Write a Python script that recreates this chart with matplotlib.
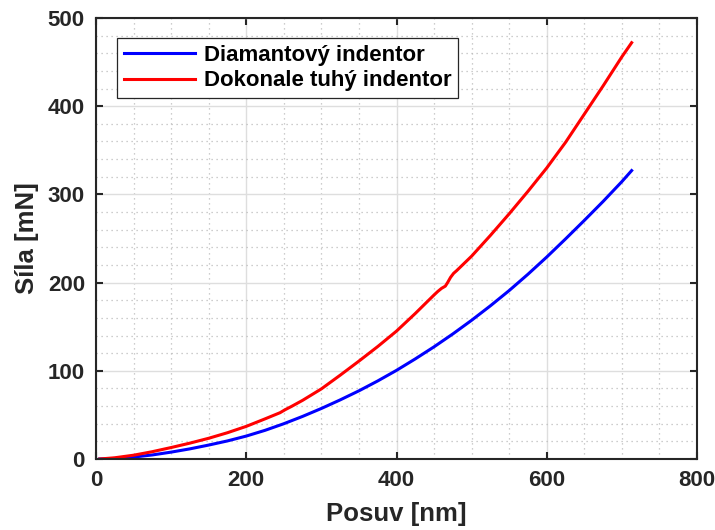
import matplotlib
matplotlib.use('Agg')
import matplotlib.pyplot as plt
from matplotlib.ticker import MultipleLocator

# Data (posuv in nm, sila in mN)
posuv_diamant = [5, 25, 50, 75, 100, 125, 150, 175, 200, 225, 250, 275, 300, 325, 350,
                 375, 400, 425, 450, 475, 500, 525, 550, 575, 600, 625, 650, 675, 700, 713]
sila_diamant = [0, 0.6, 2.2, 4.6, 7.8, 11.5, 15.8, 20.5, 26, 32.5, 40, 48.3, 57.3, 67, 77.3,
                88.5, 100.5, 113.5, 127.2, 141.8, 157.3, 173.7, 191, 209.5, 229, 249.5,
                270.5, 292, 314.5, 327]

posuv_tuhy = [5, 25, 50, 75, 100, 125, 150, 175, 200, 225, 245, 252, 260, 275, 300, 325,
              350, 375, 400, 425, 450, 455, 460, 465, 468, 472, 476, 480, 500, 525, 550,
              575, 600, 625, 650, 675, 700, 713]
sila_tuhy = [0, 1.4, 4.3, 8.3, 13, 18, 23.5, 29.8, 37, 45.5, 52.5, 56, 59.5, 66.5, 79.5, 95,
             111, 127.5, 145, 165, 186, 190, 193.5, 196, 200, 206, 210.5, 213.5, 230, 253.5,
             278, 303.5, 330, 359, 391, 423, 456, 472]

popisky = ['Diamantový indentor', 'Dokonale tuhý indentor']

plt.rcParams['font.family'] = ['Liberation Sans', 'DejaVu Sans']
plt.rcParams['font.weight'] = 'bold'

fig = plt.figure(figsize=(7.15, 5.3), dpi=100)
ax = fig.add_axes([96 / 715, 1 - 459 / 530, 601 / 715, 441 / 530])

ax.plot(posuv_diamant, sila_diamant, color=(0, 0, 1), lw=2.2, label=popisky[0])
ax.plot(posuv_tuhy, sila_tuhy, color=(1, 0, 0), lw=2.2, label=popisky[1])

ax.set_xlim(0, 800)
ax.set_ylim(0, 500)
ax.xaxis.set_major_locator(MultipleLocator(200))
ax.xaxis.set_minor_locator(MultipleLocator(50))
ax.yaxis.set_major_locator(MultipleLocator(100))
ax.yaxis.set_minor_locator(MultipleLocator(20))

# MATLAB-like mrizka
ax.grid(True, which='major', color='#dedede', lw=1.0, ls='-')
ax.grid(True, which='minor', color='#bdbdbd', lw=0.9, ls=(0, (1, 3)))
ax.set_axisbelow(True)

ax.tick_params(which='major', direction='in', length=5, width=1.5, top=True, right=True,
               labelsize=16, colors='#262626', pad=8)
ax.tick_params(which='minor', length=0, top=True, right=True)
for lab in ax.get_xticklabels() + ax.get_yticklabels():
    lab.set_fontweight('bold')
for s in ax.spines.values():
    s.set_linewidth(1.5)
    s.set_color('#262626')

ax.set_xlabel('Posuv [nm]', fontsize=18.5, fontweight='bold', color='#262626', labelpad=8)
ax.set_ylabel('Síla [mN]', fontsize=18.5, fontweight='bold', color='#262626', labelpad=6)

leg = ax.legend(loc='upper left', bbox_to_anchor=(0.035, 0.955), borderaxespad=0,
                fancybox=False, framealpha=1, edgecolor='#262626',
                prop={'size': 16, 'weight': 'bold'}, handlelength=3.2,
                handletextpad=0.4, labelspacing=0.22, borderpad=0.3)
leg.get_frame().set_linewidth(0.9)

fig.savefig('out.png', dpi=100)
